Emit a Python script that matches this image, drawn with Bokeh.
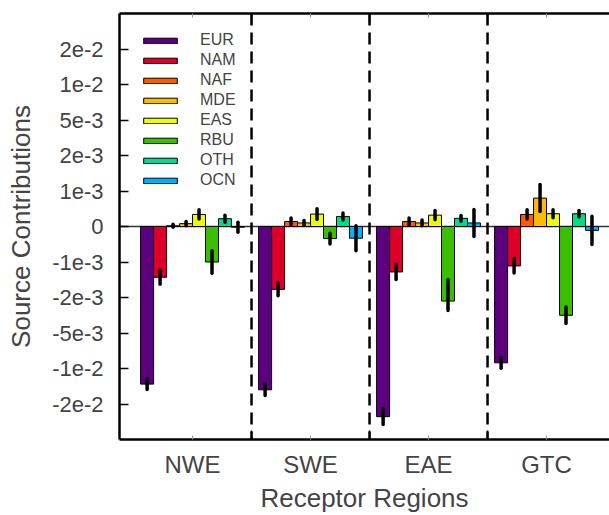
import numpy as np
from bokeh.plotting import figure
from bokeh.models import (ColumnDataSource, FixedTicker, LinearAxis, Span, Legend,
                          LegendItem, Range1d)
from bokeh.embed import file_html
from bokeh.resources import INLINE

# ---------------- data ----------------
regions = ["NWE", "SWE", "EAE", "GTC"]
sources = ["EUR", "NAM", "NAF", "MDE", "EAS", "RBU", "OTH", "OCN"]
colors = ["#5c0080", "#dc0029", "#ff5a00", "#ffbb00", "#eeff00", "#3cbe00", "#00dc8c", "#00b0ff"]

# contributions per source, one value per receptor region (NWE, SWE, EAE, GTC)
eur = [-1.44e-2, -1.60e-2, -3.07e-2, -9.2e-3]
nam = [-1.43e-3, -1.77e-3, -1.28e-3, -1.11e-3]
naf = [2e-5, 1.4e-4, 1.4e-4, 3.4e-4]
mde = [8e-5, 1.0e-4, 1.0e-4, 8.0e-4]
eas = [3.4e-4, 3.5e-4, 3.2e-4, 3.6e-4]
rbu = [-1.0e-3, -3.4e-4, -2.3e-3, -3.5e-3]
oth = [2.2e-4, 2.8e-4, 2.3e-4, 3.6e-4]
ocn = [-2e-5, -3.3e-4, 1.0e-4, -1.1e-4]

# uncertainties (+/-)
eur_err = [1.5e-3, 1.6e-3, 6.7e-3, 7.7e-4]
nam_err = [2.0e-4, 1.8e-4, 2.1e-4, 2.0e-4]
naf_err = [4e-5, 1.0e-4, 1.0e-4, 1.3e-4]
mde_err = [6e-5, 7e-5, 8e-5, 3.8e-4]
eas_err = [1.3e-4, 1.5e-4, 1.3e-4, 1.1e-4]
rbu_err = [3.2e-4, 1.5e-4, 8.0e-4, 7.0e-4]
oth_err = [1.0e-4, 1.0e-4, 8e-5, 9e-5]
ocn_err = [1.4e-4, 3.5e-4, 3.8e-4, 4.0e-4]

values = [eur, nam, naf, mde, eas, rbu, oth, ocn]
errors = [eur_err, nam_err, naf_err, mde_err, eas_err, rbu_err, oth_err, ocn_err]

ytick_values = [-2e-2, -1e-2, -5e-3, -2e-3, -1e-3, 0, 1e-3, 2e-3, 5e-3, 1e-2, 2e-2]
ytick_labels = ["-2e-2", "-1e-2", "-5e-3", "-2e-3", "-1e-3", "0",
                "1e-3", "2e-3", "5e-3", "1e-2", "2e-2"]
# symmetric 1-2-5 axis scale: each break is one equal step on the axis
scale_breaks = [0, 1e-3, 2e-3, 5e-3, 1e-2, 2e-2, 5e-2]


def to_axis(v):
    v = np.asarray(v, dtype=float)
    return np.sign(v) * np.interp(np.abs(v), scale_breaks, np.arange(len(scale_breaks)))


FONT = "Liberation Sans"
n_src = len(sources)
bar_w = 0.11
group_x = np.arange(1, len(regions) + 1, dtype=float)

p = figure(width=609, height=515, output_backend="svg", toolbar_location=None,
           x_range=Range1d(0.381, 0.381 + 490 / 118.0),
           y_range=Range1d(-len(scale_breaks) + 1, len(scale_breaks) - 1),
           x_axis_type=None, y_axis_type=None,
           min_border_left=119, min_border_top=13, min_border_bottom=76, min_border_right=0)
p.outline_line_color = None
p.background_fill_color = "white"
p.border_fill_color = "white"

# zero line and region separators
p.add_layout(Span(location=0, dimension="width", line_color="#333333", line_width=1.5,
                  level="underlay"))
for b in group_x[:-1] + 0.5:
    p.add_layout(Span(location=b, dimension="height", line_color="black",
                      line_width=2.5, line_dash="12 7"))

items = []
for i, (name, col) in enumerate(zip(sources, colors)):
    vals = np.array(values[i])
    errs = np.array(errors[i])
    xs = group_x + (i - (n_src - 1) / 2.0) * bar_w
    src = ColumnDataSource(dict(x=xs, top=to_axis(vals),
                                lo=to_axis(vals - errs), hi=to_axis(vals + errs)))
    r = p.vbar(x="x", top="top", bottom=0, width=bar_w, source=src,
               fill_color=col, line_color="black", line_width=1)
    p.segment(x0="x", y0="lo", x1="x", y1="hi", source=src, line_color="black",
              line_width=3.5, line_cap="round")
    items.append(LegendItem(label=name, renderers=[r]))

legend = Legend(items=items, location=(20, 249), glyph_width=42, glyph_height=7,
                label_height=20, spacing=0, padding=5, margin=0,
                border_line_color=None, background_fill_alpha=0,
                label_text_font=FONT, label_text_font_size="16px", label_standoff=19)
p.add_layout(legend)

# y axis
yticks = list(to_axis(ytick_values))
yax = LinearAxis(ticker=FixedTicker(ticks=yticks),
                 major_label_overrides={float(t): l for t, l in zip(yticks, ytick_labels)})
yax.axis_label = "Source Contributions"
yax.axis_line_width = 2.5
yax.major_tick_in = 9
yax.major_tick_out = 0
yax.major_tick_line_width = 1.5
yax.minor_tick_line_color = None
yax.major_label_text_font = FONT
yax.major_label_text_font_size = "22px"
yax.major_label_standoff = 16
yax.axis_label_text_font = FONT
yax.axis_label_text_font_size = "26px"
yax.axis_label_text_font_style = "normal"
yax.axis_label_standoff = 13
p.add_layout(yax, "left")

# x axis (labels at region centres, long ticks at region boundaries)
xticker = FixedTicker(ticks=list(group_x), minor_ticks=list(group_x[:-1] + 0.5))
xax = LinearAxis(ticker=xticker,
                 major_label_overrides={float(x): r for x, r in zip(group_x, regions)})
xax.axis_label = "Receptor Regions"
top_ax = LinearAxis(ticker=xticker, major_label_text_font_size="1px",
                    major_label_standoff=0,
                    major_label_overrides={float(x): "" for x in group_x})
for ax in [xax, top_ax]:
    ax.axis_line_width = 2.5
    ax.major_tick_in = 4
    ax.major_tick_out = 0
    ax.major_tick_line_color = "#999999"
    ax.major_tick_line_width = 1
    ax.minor_tick_in = 9
    ax.minor_tick_out = 0
    ax.minor_tick_line_width = 1.5
    ax.minor_tick_line_color = "black"
xax.major_label_text_font = FONT
xax.major_label_text_font_size = "24px"
xax.major_label_standoff = 11
xax.axis_label_text_font = FONT
xax.axis_label_text_font_size = "26px"
xax.axis_label_text_font_style = "normal"
xax.axis_label_standoff = 2
p.add_layout(xax, "below")
p.add_layout(top_ax, "above")

open("out.html", "w").write(file_html(p, INLINE))
